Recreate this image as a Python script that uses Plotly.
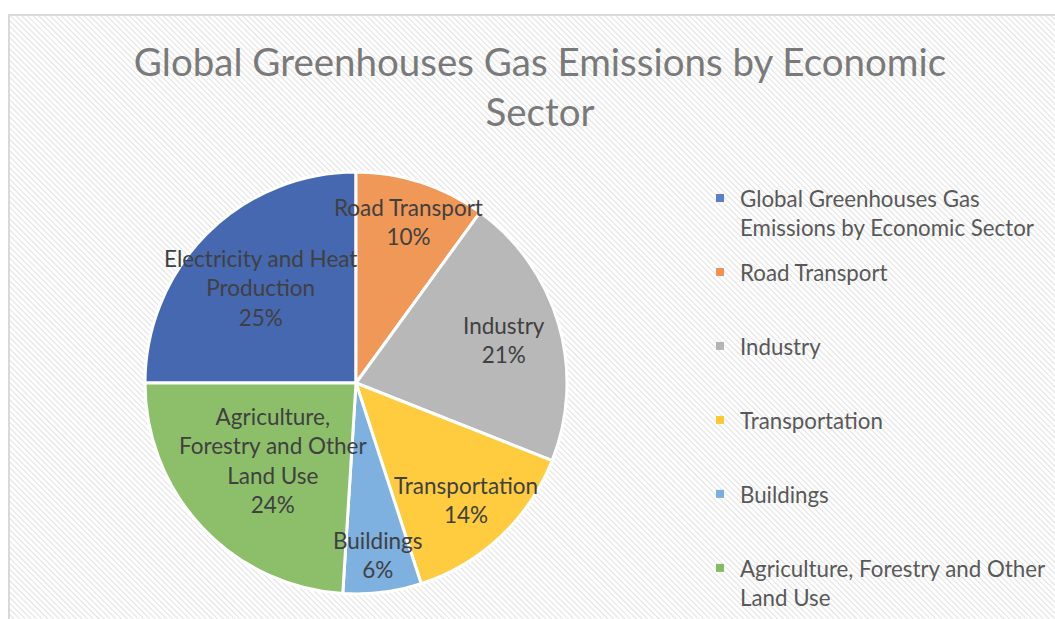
import base64
import math
import plotly.graph_objects as go

# Data
legend_labels = [
    "Global Greenhouses Gas<br>Emissions by Economic Sector",
    "Road Transport",
    "Industry",
    "Transportation",
    "Buildings",
    "Agriculture, Forestry and Other<br>Land Use",
]
slice_labels = [
    "Electricity and Heat<br>Production",
    "Road Transport",
    "Industry",
    "Transportation",
    "Buildings",
    "Agriculture,<br>Forestry and Other<br>Land Use",
]
values = [25, 10, 21, 14, 6, 24]
colors = ["#4668B0", "#F09858", "#B8B8B8", "#FFCC40", "#7EB0E0", "#8DBF6A"]
legend_colors = ["#5B7FCC", "#F0925A", "#B5B5B5", "#FFC933", "#7AAEDF", "#86BB63"]
# radial position of each data label (fraction of radius), as Excel placed them
label_radius = [0.64, 0.80, 0.73, 0.76, 0.82, 0.54]

W, H = 1055, 619
FONT = "Lato"
TXT = 22.5
START_DEG = -90  # first slice starts at 9 o'clock, clockwise

# pie geometry in pixels
PX0, PX1, PY0, PY1 = 145, 567, 172, 594
cx, cy, R = (PX0 + PX1) / 2, (PY0 + PY1) / 2, (PX1 - PX0) / 2

# hatched chart-area background with a left/top border
svg = (
    "<svg xmlns='http://www.w3.org/2000/svg' width='1047' height='605'>"
    "<defs><pattern id='p' width='4' height='4' patternUnits='userSpaceOnUse' patternTransform='rotate(-45)'>"
    "<rect width='4' height='4' fill='white'/>"
    "<line x1='0' y1='0' x2='0' y2='4' stroke='#e2e2e2' stroke-width='2'/></pattern></defs>"
    "<rect x='0' y='0' width='1047' height='605' fill='url(#p)'/>"
    "<path d='M1,605V1H1047' fill='none' stroke='#d9d9d9' stroke-width='2'/></svg>"
)
src = "data:image/svg+xml;base64," + base64.b64encode(svg.encode()).decode()

fig = go.Figure()
fig.add_trace(
    go.Pie(
        labels=[l.replace("<br>", " ") for l in legend_labels],
        values=values,
        textinfo="none",
        sort=False,
        direction="clockwise",
        rotation=START_DEG,
        marker=dict(colors=colors, line=dict(color="white", width=3)),
        domain=dict(x=[PX0 / W, PX1 / W], y=[1 - PY1 / H, 1 - PY0 / H]),
        hoverinfo="skip",
        showlegend=False,
    )
)

# legend entries (one group per category so each entry gets the same slot height)
for i, (lab, col) in enumerate(zip(legend_labels, legend_colors)):
    n = lab.count("<br>") + 1
    fig.add_trace(
        go.Scatter(
            x=[None],
            y=[None],
            mode="markers",
            name=lab + "<br>&nbsp;" * (2 - n),
            legendgroup=f"g{i}",
            marker=dict(symbol="square", size=8, color=col),
            hoverinfo="skip",
        )
    )

# data labels placed at each slice's mid angle
total = sum(values)
cum = 0
annotations = []
for lab, v, rf in zip(slice_labels, values, label_radius):
    mid = START_DEG + (cum + v / 2) / total * 360
    cum += v
    th = math.radians(mid)
    lx = cx + rf * R * math.sin(th)
    ly = cy - rf * R * math.cos(th)
    annotations.append(
        dict(
            x=lx / W,
            y=1 - ly / H,
            xref="paper",
            yref="paper",
            text=f"{lab}<br>{v / total:.0%}",
            showarrow=False,
            xanchor="center",
            yanchor="middle",
            align="center",
            font=dict(family=FONT, size=TXT, color="#404040"),
        )
    )

fig.update_layout(
    width=W,
    height=H,
    margin=dict(l=0, r=0, t=0, b=0, autoexpand=False),
    paper_bgcolor="white",
    plot_bgcolor="rgba(0,0,0,0)",
    xaxis=dict(visible=False),
    yaxis=dict(visible=False),
    annotations=annotations,
    title=dict(
        text="Global Greenhouses Gas Emissions by Economic<br>Sector",
        x=540 / W,
        xanchor="center",
        xref="container",
        y=1 - 76 / H,
        yanchor="top",
        yref="container",
        font=dict(family=FONT, size=38.5, color="#7a7a7a"),
    ),
    legend=dict(
        x=700 / W,
        xanchor="left",
        y=1 - 177 / H,
        yanchor="top",
        valign="top",
        tracegroupgap=13,
        font=dict(family=FONT, size=22.3, color="#595959"),
        bgcolor="rgba(0,0,0,0)",
        itemclick=False,
        itemdoubleclick=False,
    ),
    images=[
        dict(
            source=src,
            xref="paper",
            yref="paper",
            x=8 / W,
            y=1 - 14 / H,
            sizex=1047 / W,
            sizey=605 / H,
            xanchor="left",
            yanchor="top",
            sizing="stretch",
            layer="below",
        )
    ],
)

fig.write_html(
    "out.html",
    config={"displayModeBar": False},
    post_script="document.body.style.margin='0';document.body.style.overflow='hidden';",
)
